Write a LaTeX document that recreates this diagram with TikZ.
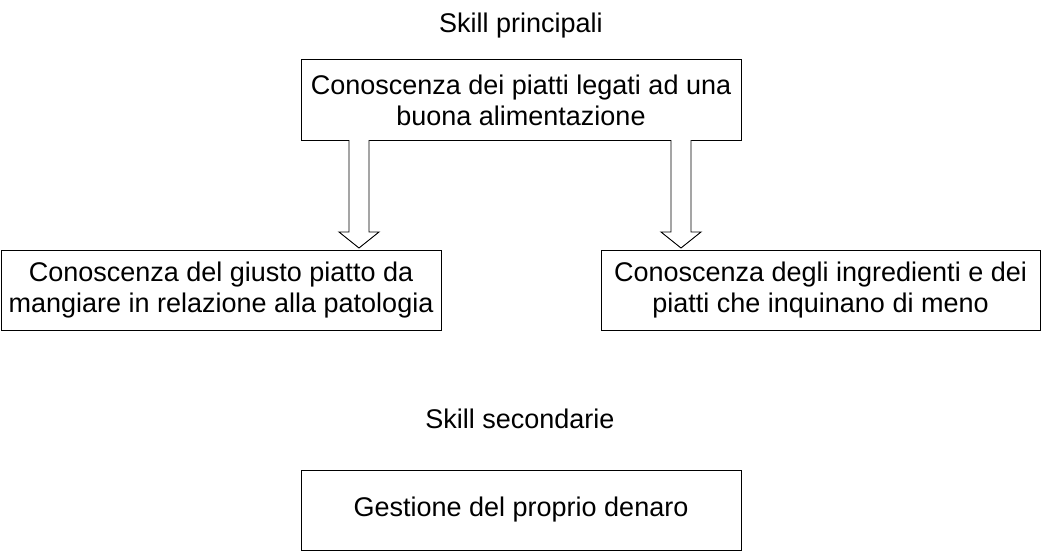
\documentclass[tikz,border=0pt]{standalone}
\usepackage{fontspec}
\setmainfont{Liberation Sans}
\usetikzlibrary{calc}
\begin{document}
\begin{tikzpicture}[x=1pt,y=-1pt,
  box/.style={draw=black,line width=1pt,fill=white,inner sep=0pt,align=center,
    font=\fontsize{27}{31}\selectfont},
  lbl/.style={inner sep=0pt,font=\fontsize{27}{31}\selectfont,anchor=base},
  fatarrow/.style={draw=black,line width=0.9pt,fill=white,line join=miter}]
\useasboundingbox (0,0) rectangle (1041,551);
\node[lbl] (sp) at (521,33) {Skill principali};
\node[box,minimum width=440pt,minimum height=80pt] (top) at (521,100) {Conoscenza dei piatti legati ad una\\buona alimentazione};
\node[box,minimum width=440pt,minimum height=80pt] (left) at (221,290) {Conoscenza del giusto piatto da\\mangiare in relazione alla patologia};
\node[box,minimum width=439pt,minimum height=80pt] (right) at (820.5,290) {Conoscenza degli ingredienti e dei\\piatti che inquinano di meno};
\node[lbl] (ss) at (520,428) {Skill secondarie};
\node[box,minimum width=440pt,minimum height=80pt] (bot) at (521,510) {Gestione del proprio denaro};
\coordinate (la) at (359,140);
\coordinate (lb) at (359,248);
\coordinate (ra) at (681,140);
\coordinate (rb) at (681,248);
\draw[fatarrow] ($(la)+(-10,0)$) -- ($(lb)+(-10,-16)$) -- ($(lb)+(-20,-16)$) -- (lb) -- ($(lb)+(20,-16)$) -- ($(lb)+(10,-16)$) -- ($(la)+(10,0)$);
\draw[fatarrow] ($(ra)+(-10,0)$) -- ($(rb)+(-10,-16)$) -- ($(rb)+(-20,-16)$) -- (rb) -- ($(rb)+(20,-16)$) -- ($(rb)+(10,-16)$) -- ($(ra)+(10,0)$);
\end{tikzpicture}
\end{document}
